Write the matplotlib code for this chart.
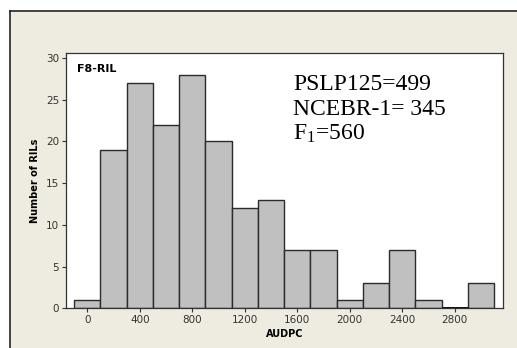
import matplotlib
matplotlib.use("Agg")
import matplotlib.pyplot as plt
from matplotlib.patches import Rectangle

bin_centers = [0, 200, 400, 600, 800, 1000, 1200, 1400, 1600, 1800, 2000, 2200, 2400, 2600, 2800, 3000]
counts = [1, 19, 27, 22, 28, 20, 12, 13, 7, 7, 1, 3, 7, 1, 0, 3]
x_ticks = [0, 400, 800, 1200, 1600, 2000, 2400, 2800]
y_ticks = [0, 5, 10, 15, 20, 25, 30]
bin_width = 200

plt.rcParams["mathtext.fontset"] = "custom"
plt.rcParams["mathtext.rm"] = "Liberation Serif"
plt.rcParams["mathtext.it"] = "Liberation Serif:italic"

bg = "#EEEBE0"
fig = plt.figure(figsize=(5.17, 3.48), dpi=100, facecolor=bg)
W, H = 517, 348
ax = fig.add_axes([66 / W, 1 - 308.3 / H, (503 - 66) / W, (308.3 - 53) / H])
ax.set_facecolor("white")

ax.bar(bin_centers, counts, width=bin_width, color="#C0C0C0", edgecolor="#2b2b2b", linewidth=1.0)
# empty bin drawn as a thick line at zero
for c, v in zip(bin_centers, counts):
    if v == 0:
        ax.plot([c - bin_width / 2, c + bin_width / 2], [0, 0], color="black", lw=2, solid_capstyle="butt", zorder=3)

ax.set_xlim(-162, 3167)
ax.set_ylim(0, 30.6)
ax.set_xticks(x_ticks)
ax.set_yticks(y_ticks)
ax.tick_params(direction="out", length=3, width=0.8, labelsize=7.5, colors="#333333", pad=2)
for s in ax.spines.values():
    s.set_color("#333333")
    s.set_linewidth(0.9)

ax.set_xlabel("AUDPC", fontsize=7, fontweight="bold", labelpad=3)
ax.set_ylabel("Number of RILs", fontsize=7, fontweight="bold", labelpad=4)

fig.text(77 / W, 1 - 69 / H, "F8-RIL", fontsize=8, fontweight="bold", va="center", ha="left")

serif = ["Liberation Serif", "DejaVu Serif"]
fs = 17
fig.text(293 / W, 1 - 90 / H, "PSLP125=499", fontsize=fs, family=serif, va="baseline")
fig.text(293 / W, 1 - 115 / H, "NCEBR-1= 345", fontsize=fs, family=serif, va="baseline")
fig.text(293 / W, 1 - 140 / H, r"F$_\mathrm{1}$=560", fontsize=fs, family=serif, va="baseline")

# outer frame lines (top and left)
fig.add_artist(plt.Line2D([10 / W, 1], [1 - 11 / H, 1 - 11 / H], transform=fig.transFigure, color="#222222", lw=1.2))
fig.add_artist(plt.Line2D([10 / W, 10 / W], [0, 1 - 11 / H], transform=fig.transFigure, color="#222222", lw=1.2))
fig.add_artist(Rectangle((0, 1 - 11 / H), 1, 11 / H, transform=fig.transFigure, color="white", zorder=-1))
fig.add_artist(Rectangle((0, 0), 10 / W, 1, transform=fig.transFigure, color="white", zorder=-1))

fig.savefig("out.png", dpi=100, facecolor=bg)
